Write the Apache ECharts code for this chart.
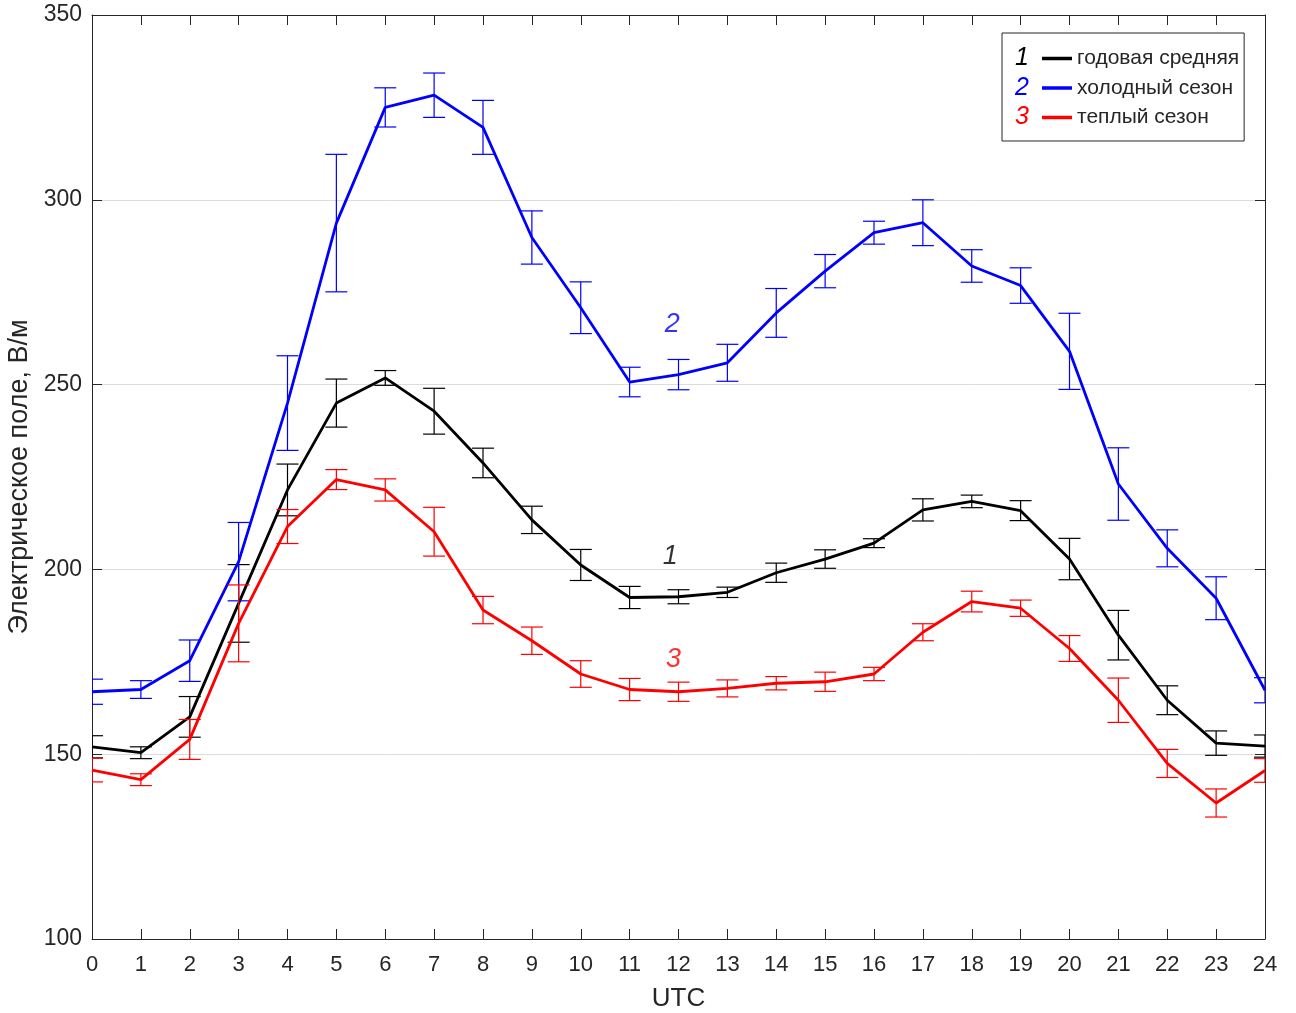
<!DOCTYPE html>
<html><head><meta charset="utf-8">
<script src="https://cdn.jsdelivr.net/npm/echarts@6/dist/echarts.min.js"></script>
<style>html,body{margin:0;padding:0;background:#fff}#c{width:1296px;height:1013px}</style>
</head><body><div id="c"></div>
<script>
const hours = [0,1,2,3,4,5,6,7,8,9,10,11,12,13,14,15,16,17,18,19,20,21,22,23,24];
const annualMean = [152,150.4,160.1,190.8,221.5,245,251.8,242.8,228.8,213.4,201.2,192.4,192.6,193.8,199.1,202.8,207.1,216.1,218.4,215.9,202.8,182.2,164.6,153,152.2];
const annualErr  = [3,1.6,5.5,10.5,7,6.5,2,6.2,4,3.7,4.2,3,1.9,1.4,2.6,2.5,1.2,3,1.7,2.7,5.6,6.7,3.9,3.3,3];
const coldMean = [166.9,167.5,175.3,202.1,245,293.7,325,328.3,319.6,289.8,270.8,250.7,252.7,255.9,269.4,280.7,291.1,293.8,282.1,276.8,259,223.1,205.7,192.2,167.3];
const coldErr  = [3.4,2.4,5.6,10.6,12.8,18.6,5.3,6,7.3,7.2,7,4,4.1,5,6.6,4.5,3.1,6.2,4.4,4.8,10.3,9.8,5,5.8,3.4];
const warmMean = [145.7,143.1,154,185.4,211.6,224.3,221.5,210.2,189,180.7,171.7,167.5,166.9,167.8,169.2,169.6,171.7,183,191.3,189.5,178.6,164.6,147.5,136.8,145.6];
const warmErr  = [3.2,1.6,5.4,10.4,4.6,2.7,3,6.6,3.7,3.7,3.6,3,2.6,2.3,1.8,2.6,1.8,2.3,2.8,2.2,3.5,6,3.8,3.8,3.2];
const seriesNames = ['годовая средняя','холодный сезон','теплый сезон'];
const seriesNums = ['1','2','3'];
const annoText = ['2','1','3'];
const annoX = [11.87,11.83,11.9];
const annoY = [266.3,203.4,175.5];
const yTicks = [100,150,200,250,300,350];

const colors = ['#000000','#0000ff','#ff0000'];
const axisCol = '#262626';
const font = 'Arial, "Liberation Sans", Helvetica, sans-serif';

function lineSeries(name, means, color, z) {
  return { type:'line', name:name, data: hours.map((h,i)=>[h, means[i]]), symbol:'none',
    lineStyle:{color:color, width:2.8}, itemStyle:{color:color}, z:z, clip:true, animation:false };
}
function errSeries(means, errs, color, z) {
  return { type:'custom', data: hours.map((h,i)=>[h, means[i]-errs[i], means[i]+errs[i]]), z:z, clip:true, silent:true, animation:false,
    renderItem: function(params, api) {
      const x = api.value(0);
      const lo = api.coord([x, api.value(1)]);
      const hi = api.coord([x, api.value(2)]);
      const w = 11;
      const st = {stroke:color, lineWidth:1.2};
      return {type:'group', children:[
        {type:'line', shape:{x1:lo[0],y1:lo[1],x2:hi[0],y2:hi[1]}, style:st},
        {type:'line', shape:{x1:lo[0]-w,y1:lo[1],x2:lo[0]+w,y2:lo[1]}, style:st},
        {type:'line', shape:{x1:hi[0]-w,y1:hi[1],x2:hi[0]+w,y2:hi[1]}, style:st}
      ]};
    } };
}
function baseAxis() {
  return {
    axisLine:{show:true, onZero:false, lineStyle:{color:axisCol, width:1}},
    axisTick:{show:true, inside:true, length:10, lineStyle:{color:axisCol, width:1}}
  };
}

const chart = echarts.init(document.getElementById('c'), null, {renderer:'canvas'});
const option = {
  animation:false,
  backgroundColor:'#fff',
  grid:{left:92, right:31, top:15, bottom:74, containLabel:false, outerBoundsMode:'none'},
  xAxis:[
    Object.assign({type:'value', min:0, max:24, interval:1, position:'bottom',
      name:'UTC', nameLocation:'middle', nameGap:47,
      nameTextStyle:{fontFamily:font, fontSize:26, color:axisCol},
      axisLabel:{fontFamily:font, fontSize:22, color:axisCol, margin:15},
      splitLine:{show:false}}, baseAxis()),
    Object.assign({type:'value', min:0, max:24, interval:1, position:'top',
      axisLabel:{show:false}, splitLine:{show:false}}, baseAxis())
  ],
  yAxis:[
    Object.assign({type:'value', min:yTicks[0], max:yTicks[yTicks.length-1], interval:50, position:'left',
      name:'Электрическое поле, В/м', nameLocation:'middle', nameGap:52,
      nameTextStyle:{fontFamily:font, fontSize:27, color:axisCol},
      axisLabel:{fontFamily:font, fontSize:23, color:axisCol, margin:10},
      splitLine:{show:true, lineStyle:{color:'#dcdcdc', width:1}}}, baseAxis()),
    Object.assign({type:'value', min:yTicks[0], max:yTicks[yTicks.length-1], interval:50, position:'right',
      axisLabel:{show:false}, splitLine:{show:false}}, baseAxis())
  ],
  legend:{
    orient:'vertical', left:1002, top:33, data:seriesNames,
    icon:'rect', itemWidth:30, itemHeight:3.5, itemGap:8.5,
    padding:[15,5,13,40],
    borderColor:axisCol, borderWidth:1, backgroundColor:'#fff',
    textStyle:{fontFamily:font, fontSize:21, color:axisCol},
    selectedMode:false
  },
  series:[
    errSeries(annualMean, annualErr, colors[0], 2),
    lineSeries(seriesNames[0], annualMean, colors[0], 3),
    errSeries(coldMean, coldErr, colors[1], 4),
    lineSeries(seriesNames[1], coldMean, colors[1], 5),
    errSeries(warmMean, warmErr, colors[2], 6),
    lineSeries(seriesNames[2], warmMean, colors[2], 7),
    { type:'scatter', symbolSize:0, silent:true, z:10, animation:false,
      data: annoText.map((t,i)=>({value:[annoX[i], annoY[i]], name:t,
        label:{show:true, position:'inside', formatter:t, fontFamily:font, fontStyle:'italic', fontSize:27,
          color: t==='1'?colors[0]:(t==='2'?colors[1]:colors[2])}})) }
  ],
  graphic: seriesNums.map((n,i)=>({type:'text', left:1015, top:46+i*29.5, z:100,
    style:{text:n, fontFamily:font, fontStyle:'italic', fontSize:25, fill:colors[i]}}))
};
chart.setOption(option);
</script></body></html>
